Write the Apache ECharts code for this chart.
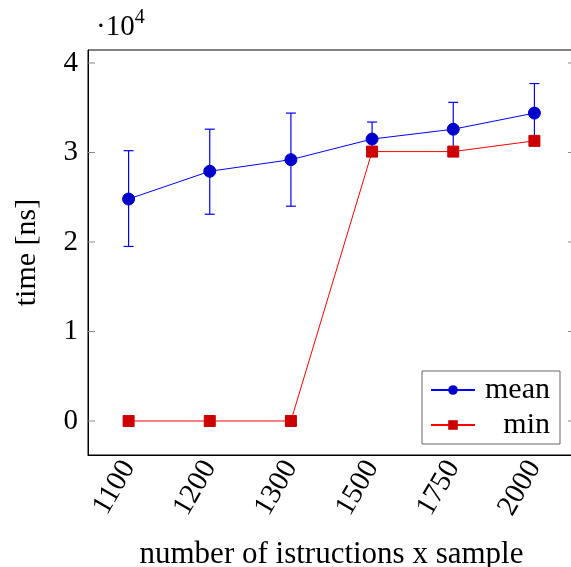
<!DOCTYPE html>
<html>
<head>
<meta charset="utf-8">
<script src="https://cdn.jsdelivr.net/npm/echarts@6/dist/echarts.min.js"></script>
<style>
  html, body { margin: 0; padding: 0; background: #fff; }
  #chart { width: 571px; height: 567px; }
</style>
</head>
<body>
<div id="chart"></div>
<script>
// values in units of 10^4 ns
var categories = ['1100', '1200', '1300', '1500', '1750', '2000'];
var meanValues = [2.48, 2.79, 2.92, 3.15, 3.26, 3.44];
var errLow = [1.95, 2.31, 2.40, 2.96, 2.96, 3.11];
var errHigh = [3.02, 3.26, 3.44, 3.34, 3.56, 3.77];
var minValues = [0, 0, 0, 3.01, 3.01, 3.13];
var yTicks = [0, 1, 2, 3, 4];

var font = 'Liberation Serif';
var fs = 29;
var chart = echarts.init(document.getElementById('chart'));

var errData = categories.map(function (c, i) { return [i, errLow[i], errHigh[i]]; });

var option = {
  animation: false,
  textStyle: { fontFamily: font },
  grid: {
    left: 88, top: 50, width: 487, height: 405,
    show: true, borderColor: '#000', borderWidth: 1,
    containLabel: false, outerBoundsMode: 'none'
  },
  xAxis: [{
    type: 'category',
    data: categories,
    boundaryGap: true,
    name: 'number of istructions x sample',
    nameLocation: 'middle',
    nameGap: 84,
    nameTextStyle: { fontFamily: font, fontSize: 31, color: '#000' },
    axisLine: { onZero: false, lineStyle: { color: '#000' } },
    axisTick: { inside: true, length: 7, alignWithLabel: true, lineStyle: { color: '#888' } },
    axisLabel: { rotate: 60, margin: 8, fontFamily: font, fontSize: fs, color: '#000' },
    splitLine: { show: false }
  }, {
    type: 'category',
    data: categories,
    position: 'top',
    axisLine: { show: false },
    axisTick: { inside: true, length: 7, alignWithLabel: true, lineStyle: { color: '#888' } },
    axisLabel: { show: false }
  }],
  yAxis: [{
    type: 'value',
    min: -0.38,
    max: 4.145,
    interval: 1,
    name: 'time [ns]',
    nameLocation: 'middle',
    nameGap: 46,
    nameTextStyle: { fontFamily: font, fontSize: 30, color: '#000' },
    axisLine: { show: true, onZero: false, lineStyle: { color: '#000' } },
    axisTick: { show: false },
    axisLabel: { show: false },
    splitLine: { show: false }
  }],
  legend: {
    left: 422,
    top: 371,
    orient: 'vertical',
    backgroundColor: '#fff',
    borderColor: '#666',
    borderWidth: 1,
    borderRadius: 0,
    padding: [4, 10, 4, 8],
    itemGap: 5,
    itemWidth: 44,
    itemHeight: 12,
    data: ['mean', 'min'],
    formatter: function (name) { return '{r|' + name + '}'; },
    textStyle: {
      fontFamily: font, fontSize: fs, color: '#000',
      rich: { r: { fontFamily: font, fontSize: 30, color: '#000', width: 70, align: 'right' } }
    }
  },
  series: [{
    name: 'errors',
    type: 'custom',
    z: 2,
    data: errData,
    renderItem: function (params, api) {
      var lo = api.coord([api.value(0), api.value(1)]);
      var hi = api.coord([api.value(0), api.value(2)]);
      var hw = 5;
      var style = { stroke: '#0000ff', lineWidth: 1.2 };
      return {
        type: 'group',
        children: [
          { type: 'line', shape: { x1: lo[0], y1: lo[1], x2: hi[0], y2: hi[1] }, style: style },
          { type: 'line', shape: { x1: lo[0] - hw, y1: lo[1], x2: lo[0] + hw, y2: lo[1] }, style: style },
          { type: 'line', shape: { x1: hi[0] - hw, y1: hi[1], x2: hi[0] + hw, y2: hi[1] }, style: style }
        ]
      };
    }
  }, {
    name: 'mean',
    type: 'line',
    z: 3,
    data: meanValues,
    symbol: 'circle',
    symbolSize: 12,
    lineStyle: { color: '#0000ff', width: 1 },
    itemStyle: { color: '#0000cc', borderColor: '#0000cc' }
  }, {
    name: 'min',
    type: 'line',
    z: 4,
    data: minValues,
    symbol: 'rect',
    symbolSize: 11,
    lineStyle: { color: '#ff0000', width: 1 },
    itemStyle: { color: '#cc0000', borderColor: '#cc0000' }
  }, {
    name: 'ticks',
    type: 'custom',
    silent: true,
    z: 1,
    data: yTicks,
    renderItem: function (params, api) {
      var v = api.value(0);
      var p = api.coord([0, v]);
      var cs = params.coordSys;
      var st = { stroke: '#888', lineWidth: 1 };
      return {
        type: 'group',
        children: [
          { type: 'line', shape: { x1: cs.x, y1: p[1], x2: cs.x + 7, y2: p[1] }, style: st },
          { type: 'line', shape: { x1: cs.x + cs.width - 7, y1: p[1], x2: cs.x + cs.width, y2: p[1] }, style: st },
          { type: 'text', style: { x: cs.x - 10, y: p[1], text: String(v), textAlign: 'right', textVerticalAlign: 'middle', fontFamily: font, fontSize: fs, fill: '#000' } }
        ]
      };
    }
  }],
  graphic: [{
    type: 'text',
    left: 96,
    top: 8,
    style: {
      text: '{a|·10}{b|4}',
      rich: {
        a: { fontFamily: font, fontSize: fs, fill: '#000', verticalAlign: 'bottom' },
        b: { fontFamily: font, fontSize: 20, fill: '#000', verticalAlign: 'top', padding: [0, 0, 14, 0] }
      }
    }
  }]
};

chart.setOption(option);
</script>
</body>
</html>
